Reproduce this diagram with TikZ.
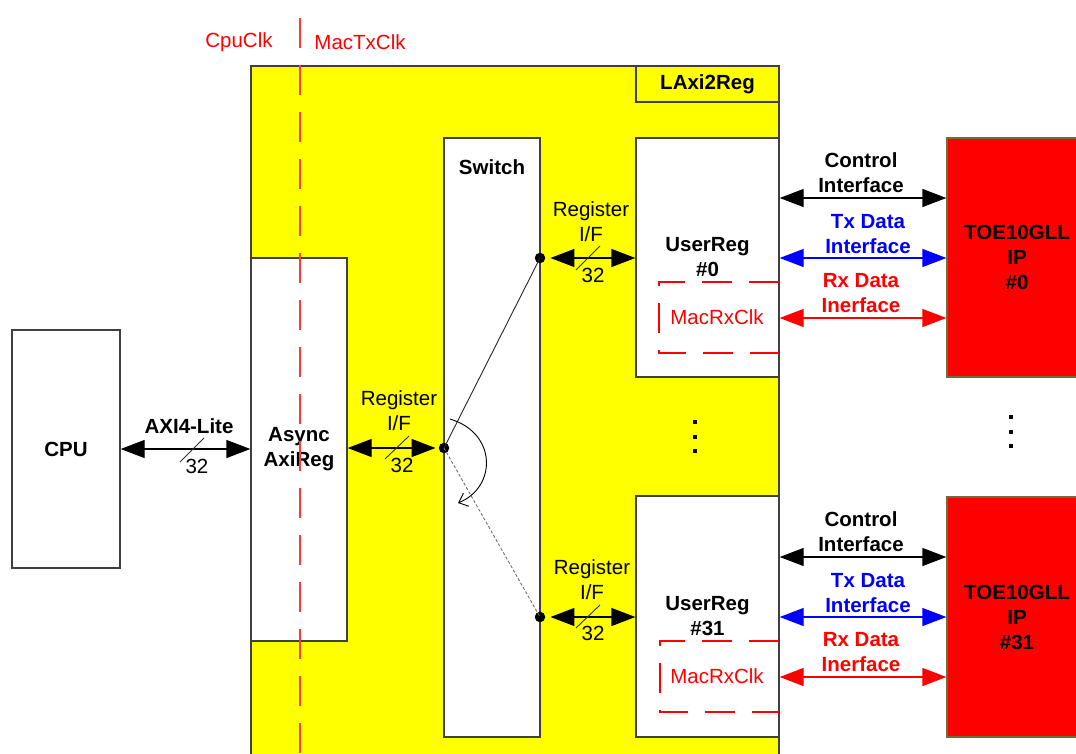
\documentclass[tikz,border=0pt]{standalone}
\usepackage{fontspec}
\setmainfont{Liberation Sans}
\usetikzlibrary{arrows.meta,calc}
\definecolor{boxgray}{HTML}{404040}
\definecolor{ylw}{HTML}{FFFF00}
\definecolor{clkred}{HTML}{FF3838}
\definecolor{toeedge}{HTML}{6E6E3C}
\definecolor{swgray}{HTML}{707070}
\begin{document}
\begin{tikzpicture}[x=1pt,y=-1pt,
  every node/.style={inner sep=0pt, align=center, font=\fontsize{20.5}{25}\selectfont},
  blk/.style={draw=boxgray, line width=1.3pt, fill=white, rectangle, font=\fontsize{20.5}{25}\selectfont\bfseries},
  ylwbox/.style={draw=boxgray, line width=1.3pt, fill=ylw, rectangle, font=\fontsize{20.5}{25}\selectfont\bfseries},
  toebox/.style={draw=toeedge, line width=1.3pt, fill=red, rectangle, font=\fontsize{20.5}{25}\selectfont\bfseries},
  bold/.style={font=\fontsize{20.5}{25}\selectfont\bfseries},
  plain/.style={font=\fontsize{20.5}{25}\selectfont},
  biarrow/.style={{Triangle[length=24pt,width=18pt]}-{Triangle[length=24pt,width=18pt]}, line width=1.3pt},
  busslash/.style={line width=0.9pt, draw=black!80},
  clkline/.style={draw=clkred, line width=2pt, dash pattern=on 30pt off 17pt},
  rxbox/.style={draw=red, line width=1.6pt, dash pattern=on 30pt off 17pt},
  joint/.style={circle, fill=black, minimum size=10.5pt, inner sep=0pt},
  vdot/.style={rectangle, fill=black, minimum size=3.4pt, inner sep=0pt},
  swlink/.style={line width=0.9pt, draw=black!85},
  swdash/.style={line width=0.9pt, draw=swgray, dash pattern=on 3pt off 2pt},
]
\useasboundingbox (0,0) rectangle (1076,753);

% main boxes
\node[ylwbox, minimum width=528pt, minimum height=710pt] (lax) at (515,421) {};
\node[ylwbox, minimum width=143pt, minimum height=36pt] (laxl) at (707.5,84) {LAxi2Reg};
\node[blk, minimum width=108pt, minimum height=238pt] (cpu) at (66,449) {CPU};
\node[blk, minimum width=96pt, minimum height=383pt] (async) at (299,449.5) {Async\\AxiReg};
\node[blk, minimum width=96pt, minimum height=599pt] (sw) at (492,437.5) {};
\node[bold] (swl) at (492,167) {Switch};
\node[blk, minimum width=143pt, minimum height=239pt] (u0) at (707.5,257.5) {};
\node[bold] (u0l) at (707.5,257) {UserReg\\\#0};
\node[blk, minimum width=143pt, minimum height=241pt] (u31) at (707.5,616.5) {};
\node[bold] (u31l) at (707.5,616) {UserReg\\\#31};
\node[toebox, minimum width=140pt, minimum height=239pt] (t0) at (1017,257.5) {TOE10GLL\\IP\\\#0};
\node[toebox, minimum width=140pt, minimum height=240pt] (t31) at (1017,617) {TOE10GLL\\IP\\\#31};

% MacRxClk dashed regions
\coordinate (r0a) at (779,282);
\coordinate (r0b) at (659,282);
\coordinate (r0c) at (659,353);
\coordinate (r0d) at (779,353);
\draw[rxbox] (r0a) -- (r0b) -- (r0c) -- (r0d);
\node[plain, text=red] (r0l) at (717,317) {MacRxClk};
\coordinate (r31a) at (779,641);
\coordinate (r31b) at (660,641);
\coordinate (r31c) at (660,712);
\coordinate (r31d) at (779,712);
\draw[rxbox] (r31a) -- (r31b) -- (r31c) -- (r31d);
\node[plain, text=red] (r31l) at (717,676) {MacRxClk};

% AXI4-Lite
\draw[biarrow] (cpu.east |- 0,449) -- (async.west |- 0,449);
\node[bold] (axil) at (189,426) {AXI4-Lite};
\draw[busslash] (180,462) -- (204,438);
\node[plain] (axin) at (197,466) {32};

% switch joints
\node[joint] (j0) at (444,448) {};
\node[joint] (j1) at (540,258) {};
\node[joint] (j2) at (540,617) {};
\draw[swlink] (j0.center) -- (j1.center);
\draw[swdash] (j0.center) -- (j2.center);
\draw[line width=0.9pt, -{Straight Barb[length=8pt,width=14pt]}] (450,419) .. controls (497,433) and (497,487) .. (458,503);

% Register I/F (left)
\draw[biarrow, shorten >=3pt] (async.east |- j0) -- (j0);
\node[plain] (rl) at (399,411) {Register\\I/F};
\draw[busslash] (385,459) -- (409,436);
\node[plain] (rln) at (402,465) {32};

% Register I/F #0
\draw[biarrow, shorten <=5pt] (j1) -- (u0.west |- j1);
\node[plain] (r0t) at (591,222) {Register\\I/F};
\draw[busslash] (576,270) -- (600,246);
\node[plain] (r0n) at (593,275) {32};

% Register I/F #31
\draw[biarrow, shorten <=5pt] (j2) -- (u31.west |- j2);
\node[plain] (r31t) at (592,580) {Register\\I/F};
\draw[busslash] (576,628) -- (600,605);
\node[plain] (r31n) at (593,633) {32};

% right interfaces #0
\draw[biarrow] (u0.east |- 0,198) -- (t0.west |- 0,198);
\node[bold] (c0l) at (861,172.5) {Control\\Interface};
\draw[biarrow, blue] (u0.east |- 0,258) -- (t0.west |- 0,258);
\node[bold, text=blue] (tx0l) at (868,234) {Tx Data\\Interface};
\draw[biarrow, red] (u0.east |- 0,318) -- (t0.west |- 0,318);
\node[bold, text=red] (rx0l) at (861,293.5) {Rx Data\\Inerface};

% right interfaces #31
\draw[biarrow] (u31.east |- 0,557) -- (t31.west |- 0,557);
\node[bold] (c31l) at (861,531.5) {Control\\Interface};
\draw[biarrow, blue] (u31.east |- 0,617) -- (t31.west |- 0,617);
\node[bold, text=blue] (tx31l) at (868,593) {Tx Data\\Interface};
\draw[biarrow, red] (u31.east |- 0,677) -- (t31.west |- 0,677);
\node[bold, text=red] (rx31l) at (861,652.5) {Rx Data\\Inerface};

% vertical dots
\node[vdot] (d1) at (695,422) {};
\node[vdot] (d2) at (695,437) {};
\node[vdot] (d3) at (695,451) {};
\node[vdot] (e1) at (1011,417) {};
\node[vdot] (e2) at (1011,432) {};
\node[vdot] (e3) at (1011,446) {};

% clock domain line
\coordinate (clktop) at (300,18);
\coordinate (clkbot) at (300,770);
\draw[clkline] (clktop) -- (clkbot);
\node[plain, text=red] (cpuclk) at (239,42) {CpuClk};
\node[plain, text=red] (mactxclk) at (360,42) {MacTxClk};
\end{tikzpicture}
\end{document}
